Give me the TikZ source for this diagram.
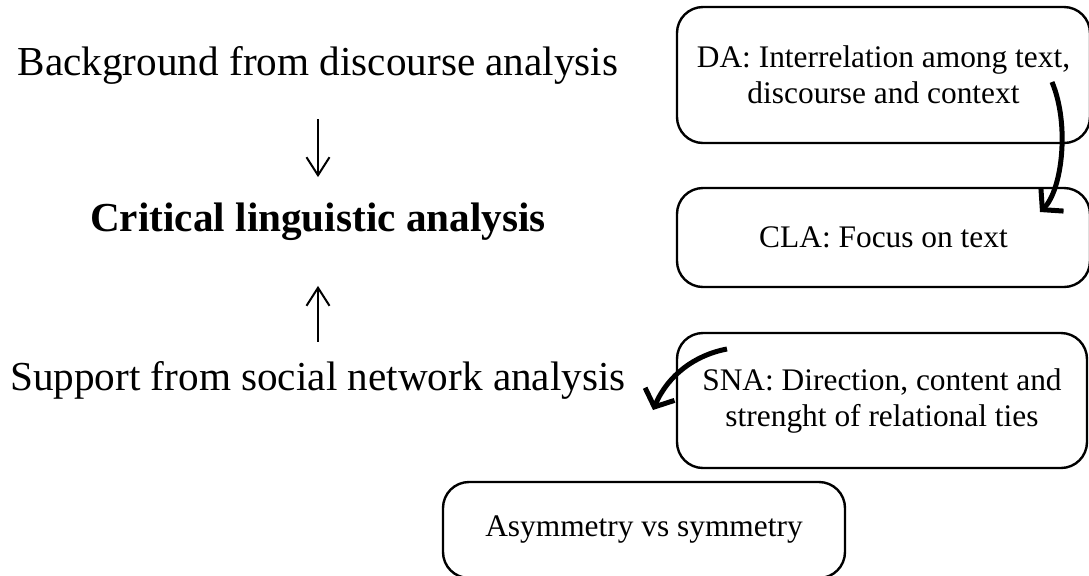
\documentclass[tikz,border=0pt]{standalone}
\usepackage{fontspec}
\setmainfont{Liberation Serif}
\usetikzlibrary{arrows.meta,positioning}

\begin{document}
\begin{tikzpicture}[x=0.5pt,y=-0.5pt,
  big/.style={font=\fontsize{20.6}{24}\selectfont},
  box/.style={draw, line width=1.2pt, rounded corners=13pt, align=center, inner sep=0pt, font=\fontsize{15.7}{18}\selectfont},
  thin/.style={line width=1pt, -{Straight Barb[length=9pt,width=11.5pt]}},
  thick/.style={line width=2.5pt, -{Straight Barb[length=7pt,width=16pt]}}]
\clip (0,0) rectangle (1089,575);
% left column
\node[big] (bg) at (318,65) {Background from discourse analysis};
\node[big] (cla) at (318,222) {\bfseries Critical linguistic analysis};
\node[big] (sup) at (318,380) {Support from social network analysis};
\draw[thin, shorten <=14pt, shorten >=9.5pt] (bg) -- (cla);
\draw[thin, shorten <=6pt, shorten >=19pt] (sup) -- (cla);
% right column
\node[box, minimum width=206.5pt, minimum height=68pt] (da) at (883.5,75) {DA: Interrelation among text,\\discourse and context};
\node[box, minimum width=206.5pt, minimum height=49.5pt] (focus) at (883.5,237.5) {CLA: Focus on text};
\node[box, minimum width=205pt, minimum height=67.5pt] (sna) at (882,400.5) {SNA: Direction, content and\\strenght of relational ties};
\node[box, minimum width=201pt, minimum height=48pt] (sym) at (644,530) {Asymmetry vs symmetry};
\coordinate (da-tail) at (1052,82);
\coordinate (focus-tip) at (1040,212);
\coordinate (sna-tail) at (727,349);
\coordinate (sup-tip) at (653,410);
\draw[thick] (da-tail) .. controls (1070,125) and (1062,190) .. (focus-tip);
\draw[thick] (sna-tail) .. controls (695,355) and (668,375) .. (sup-tip);
\end{tikzpicture}
\end{document}
